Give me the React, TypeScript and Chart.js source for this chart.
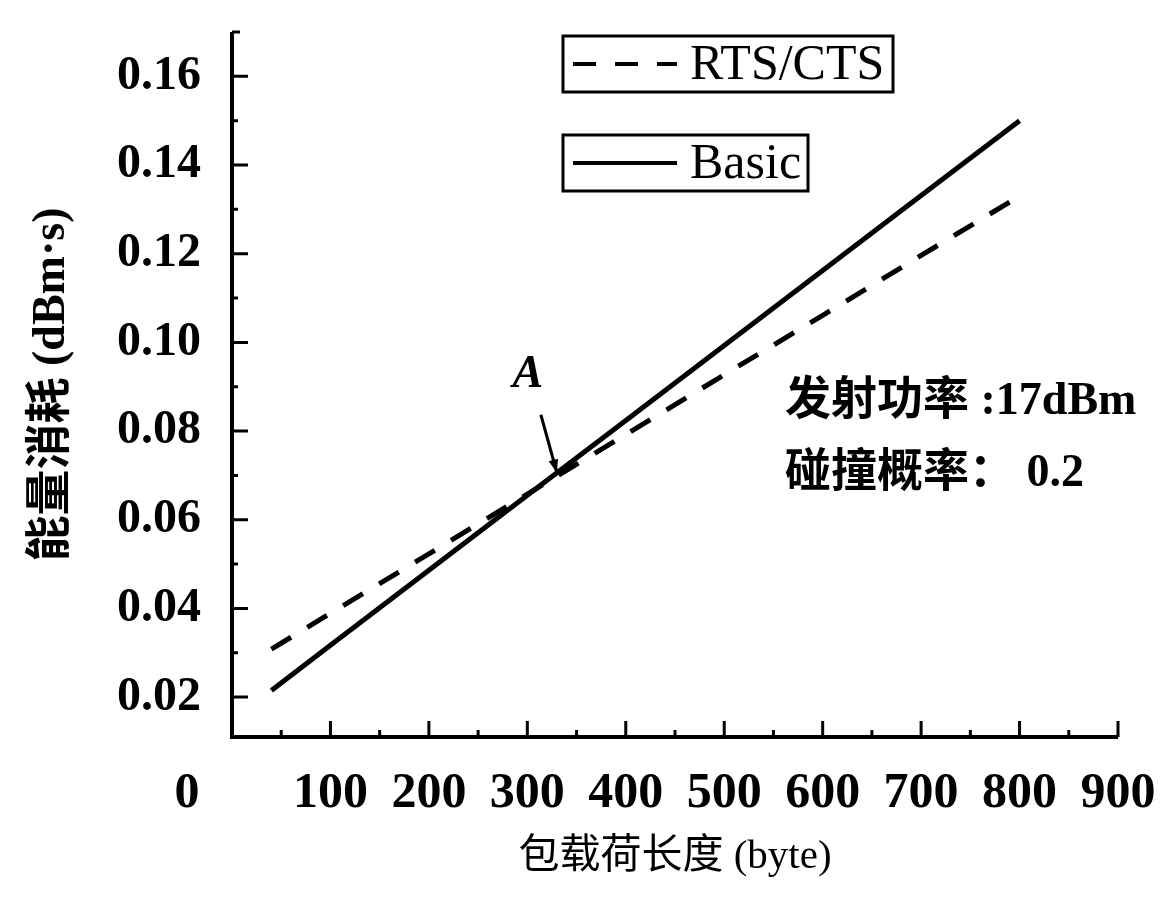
import React, { useEffect, useRef } from 'react';
import { Chart, registerables } from 'chart.js';

Chart.register(...registerables);

// ---- data ----
const PAYLOAD = [40, 100, 200, 300, 400, 500, 600, 700, 800];
const BASIC = [0.0215, 0.0317, 0.0486, 0.0655, 0.0824, 0.0993, 0.1162, 0.1331, 0.150];
const RTS_CTS = [0.0308, 0.0389, 0.0523, 0.0658, 0.0792, 0.0927, 0.1061, 0.1196, 0.133];
const X_TICKS = [0, 100, 200, 300, 400, 500, 600, 700, 800, 900];
const X_MINOR = [50, 150, 250, 350, 450, 550, 650, 750, 850];
const Y_TICKS = [0.02, 0.04, 0.06, 0.08, 0.1, 0.12, 0.14, 0.16];
const Y_MINOR = [0.03, 0.05, 0.07, 0.09, 0.11, 0.13, 0.15];
const SERIES_NAMES = ['RTS/CTS', 'Basic'];
const X_TITLE = '包载荷长度 (byte)';
const Y_TITLE = '能量消耗 (dBm·s)';
const NOTE_LINES = ['发射功率 :17dBm', '碰撞概率： 0.2'];
const MARK_LABEL = 'A';
const MARK_AT = { x: 330, y: 0.0706 };

const SERIF = "'Liberation Serif', 'Times New Roman', 'Noto Sans CJK SC', serif";

const decorPlugin = {
  id: 'decor',
  afterDraw(chart: any) {
    const { ctx, chartArea, scales } = chart;
    const xs = scales.x;
    const ys = scales.y;
    const { left, right, top, bottom } = chartArea;
    ctx.save();
    ctx.strokeStyle = '#000';
    ctx.fillStyle = '#000';
    ctx.lineCap = 'butt';

    // axes
    ctx.lineWidth = 4;
    ctx.beginPath();
    ctx.moveTo(left, top);
    ctx.lineTo(left, bottom);
    ctx.lineTo(right, bottom);
    ctx.stroke();

    // ticks (inside)
    ctx.lineWidth = 3;
    ctx.beginPath();
    X_TICKS.forEach((v) => {
      if (v === 0) return;
      const px = xs.getPixelForValue(v);
      ctx.moveTo(px, bottom);
      ctx.lineTo(px, bottom - 16);
    });
    X_MINOR.forEach((v) => {
      const px = xs.getPixelForValue(v);
      ctx.moveTo(px, bottom);
      ctx.lineTo(px, bottom - 7);
    });
    Y_TICKS.forEach((v) => {
      const py = ys.getPixelForValue(v);
      ctx.moveTo(left, py);
      ctx.lineTo(left + 16, py);
    });
    Y_MINOR.forEach((v) => {
      const py = ys.getPixelForValue(v);
      ctx.moveTo(left, py);
      ctx.lineTo(left + 6, py);
    });
    ctx.moveTo(left, top);
    ctx.lineTo(left + 8, top);
    ctx.stroke();

    // displaced "0" label
    ctx.font = `bold 50px ${SERIF}`;
    ctx.textAlign = 'center';
    ctx.textBaseline = 'middle';
    ctx.fillText('0', xs.getPixelForValue(0) - 45, bottom + 57);

    // legend boxes
    const boxes = [
      { x: 563, y: 36, w: 330, h: 56 },
      { x: 563, y: 135, w: 245, h: 56 },
    ];
    chart.data.datasets.forEach((ds: any, i: number) => {
      const b = boxes[i];
      ctx.lineWidth = 3;
      ctx.setLineDash([]);
      ctx.strokeRect(b.x, b.y, b.w, b.h);
      const my = b.y + b.h / 2;
      ctx.lineWidth = 4;
      ctx.setLineDash(ds.borderDash || []);
      ctx.beginPath();
      ctx.moveTo(b.x + 10, my);
      ctx.lineTo(b.x + 114, my);
      ctx.stroke();
      ctx.setLineDash([]);
      ctx.font = `50px ${SERIF}`;
      ctx.textAlign = 'left';
      ctx.textBaseline = 'middle';
      ctx.fillText(ds.label, b.x + 127, my + 2);
    });

    // notes
    ctx.font = `bold 46px ${SERIF}`;
    ctx.textAlign = 'left';
    ctx.textBaseline = 'middle';
    ctx.fillText(NOTE_LINES[0], 785, 402);
    ctx.fillText(NOTE_LINES[1], 785, 474);

    // A marker with arrow
    const tx = xs.getPixelForValue(MARK_AT.x);
    const ty = ys.getPixelForValue(MARK_AT.y);
    ctx.font = `italic bold 46px ${SERIF}`;
    ctx.textAlign = 'center';
    ctx.fillText(MARK_LABEL, tx - 29, ty - 98);
    const sx = tx - 16;
    const sy = ty - 58;
    ctx.lineWidth = 3;
    ctx.beginPath();
    ctx.moveTo(sx, sy);
    ctx.lineTo(tx, ty);
    ctx.stroke();
    const ang = Math.atan2(ty - sy, tx - sx);
    ctx.beginPath();
    ctx.moveTo(tx, ty);
    ctx.lineTo(tx - 14 * Math.cos(ang - 0.35), ty - 14 * Math.sin(ang - 0.35));
    ctx.lineTo(tx - 14 * Math.cos(ang + 0.35), ty - 14 * Math.sin(ang + 0.35));
    ctx.closePath();
    ctx.fill();

    ctx.restore();
  },
};

export default function App() {
  const ref = useRef<HTMLCanvasElement | null>(null);
  useEffect(() => {
    document.body.style.margin = '0';
    const canvas = ref.current;
    if (!canvas) return;
    const chart = new Chart(canvas, {
      type: 'line',
      data: {
        datasets: [
          {
            label: SERIES_NAMES[0],
            data: PAYLOAD.map((x, i) => ({ x, y: RTS_CTS[i] })),
            borderColor: '#000',
            borderWidth: 5,
            borderDash: [23, 19],
            pointRadius: 0,
            tension: 0,
            fill: false,
          },
          {
            label: SERIES_NAMES[1],
            data: PAYLOAD.map((x, i) => ({ x, y: BASIC[i] })),
            borderColor: '#000',
            borderWidth: 5,
            pointRadius: 0,
            tension: 0,
            fill: false,
          },
        ],
      },
      options: {
        responsive: false,
        animation: false,
        devicePixelRatio: 1,
        layout: { padding: { top: 32, right: 47, left: 0, bottom: 0 } },
        plugins: { legend: { display: false }, tooltip: { enabled: false } },
        scales: {
          x: {
            type: 'linear',
            min: 0,
            max: 900,
            grid: { display: false, drawTicks: false, tickLength: 0 },
            border: { display: false },
            afterBuildTicks: (s: any) => {
              s.ticks = X_TICKS.map((v) => ({ value: v }));
            },
            afterFit: (s: any) => {
              s.height = 164;
              s.paddingLeft = 0;
              s.paddingRight = 0;
            },
            ticks: {
              autoSkip: false,
              maxRotation: 0,
              padding: 27,
              color: '#000',
              font: { family: SERIF, size: 50, weight: 'bold' },
              callback: (v: any) => (Number(v) === 0 ? '' : String(v)),
            },
            title: {
              display: true,
              text: X_TITLE,
              color: '#000',
              font: { family: SERIF, size: 41 },
              padding: { top: 0, bottom: 19 },
            },
          },
          y: {
            type: 'linear',
            min: 0.011,
            max: 0.17,
            grid: { display: false, drawTicks: false, tickLength: 0 },
            border: { display: false },
            afterBuildTicks: (s: any) => {
              s.ticks = Y_TICKS.map((v) => ({ value: v }));
            },
            afterFit: (s: any) => {
              s.width = 232;
              s.paddingTop = 0;
              s.paddingBottom = 0;
            },
            ticks: {
              autoSkip: false,
              padding: 31,
              color: '#000',
              font: { family: SERIF, size: 48, weight: 'bold' },
              callback: (v: any) => Number(v).toFixed(2),
            },
            title: {
              display: true,
              text: Y_TITLE,
              color: '#000',
              font: { family: SERIF, size: 46, weight: 'bold' },
              padding: { top: 25, bottom: 0 },
            },
          },
        },
      },
      plugins: [decorPlugin],
    } as any);
    return () => chart.destroy();
  }, []);
  return (
    <div style={{ width: 1165, height: 901, background: '#fff' }}>
      <canvas ref={ref} width={1165} height={901} style={{ display: 'block' }} />
    </div>
  );
}
